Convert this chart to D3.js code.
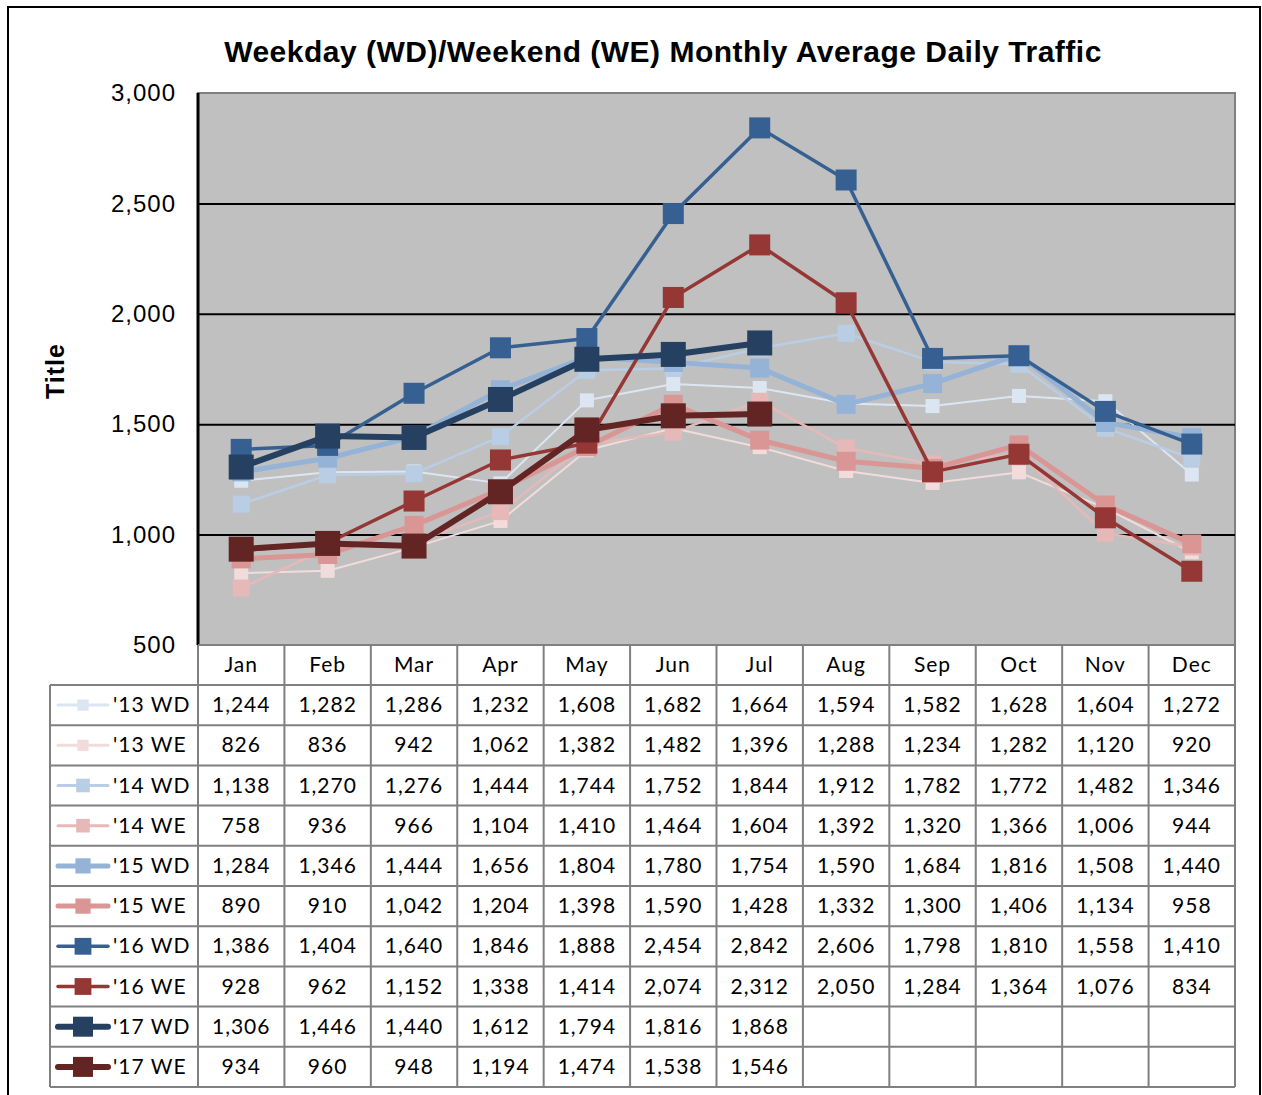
<!DOCTYPE html>
<html>
<head>
<meta charset="utf-8">
<script src="https://cdn.jsdelivr.net/npm/d3@7"></script>
<style>
  body { margin: 0; background: #fff; }
  svg { display: block; }
  .tick text { font-family: "Liberation Sans", Arial, sans-serif; }
</style>
</head>
<body>
<svg id="chart"></svg>
<script>
// Months (categories)
const months = ['Jan', 'Feb', 'Mar', 'Apr', 'May', 'Jun', 'Jul', 'Aug', 'Sep', 'Oct', 'Nov', 'Dec'];

// Series names
const seriesNames = ["'13 WD", "'13 WE", "'14 WD", "'14 WE", "'15 WD", "'15 WE", "'16 WD", "'16 WE", "'17 WD", "'17 WE"];

// Series values (null = no data yet)
const wd13 = [1244, 1282, 1286, 1232, 1608, 1682, 1664, 1594, 1582, 1628, 1604, 1272];
const we13 = [826, 836, 942, 1062, 1382, 1482, 1396, 1288, 1234, 1282, 1120, 920];
const wd14 = [1138, 1270, 1276, 1444, 1744, 1752, 1844, 1912, 1782, 1772, 1482, 1346];
const we14 = [758, 936, 966, 1104, 1410, 1464, 1604, 1392, 1320, 1366, 1006, 944];
const wd15 = [1284, 1346, 1444, 1656, 1804, 1780, 1754, 1590, 1684, 1816, 1508, 1440];
const we15 = [890, 910, 1042, 1204, 1398, 1590, 1428, 1332, 1300, 1406, 1134, 958];
const wd16 = [1386, 1404, 1640, 1846, 1888, 2454, 2842, 2606, 1798, 1810, 1558, 1410];
const we16 = [928, 962, 1152, 1338, 1414, 2074, 2312, 2050, 1284, 1364, 1076, 834];
const wd17 = [1306, 1446, 1440, 1612, 1794, 1816, 1868, null, null, null, null, null];
const we17 = [934, 960, 948, 1194, 1474, 1538, 1546, null, null, null, null, null];

// Y axis ticks
const yTicks = [500, 1000, 1500, 2000, 2500, 3000];

const seriesValues = [wd13, we13, wd14, we14, wd15, we15, wd16, we16, wd17, we17];

// styling per series
const colors = ['#dce6f2', '#f2dcdb', '#b9cde5', '#e6b9b8', '#95b3d7', '#d99694', '#376092', '#953735', '#254061', '#632523'];
const lineWidths = [2, 2, 2.5, 2.5, 5, 5, 3.5, 3.5, 6, 6];
const markerSizes = [14, 14, 17, 17, 19, 19, 21, 21, 25, 25];

const series = seriesNames.map((name, i) => ({
  name: name,
  values: seriesValues[i],
  color: colors[i],
  lw: lineWidths[i],
  ms: markerSizes[i]
}));

const W = 1262, H = 1095;
const plot = { left: 198, right: 1235, top: 93, bottom: 645 };
const rowH = 40.2;
const headerTop = 645, headerH = 40;
const legendLeft = 50;

const svg = d3.select('#chart').attr('width', W).attr('height', H);

// outer frame
svg.append('rect')
  .attr('x', 8).attr('y', 7)
  .attr('width', 1252).attr('height', 1100)
  .attr('fill', '#fff')
  .attr('stroke', '#000')
  .attr('stroke-width', 2);

// title
svg.append('text')
  .attr('x', 663).attr('y', 62)
  .attr('text-anchor', 'middle')
  .style('font-family', '"Liberation Sans", Arial, sans-serif')
  .style('font-weight', 'bold')
  .style('font-size', '30px')
  .style('letter-spacing', '0.5px')
  .text('Weekday (WD)/Weekend (WE) Monthly Average Daily Traffic');

// y axis title
svg.append('text')
  .attr('transform', 'translate(64,371) rotate(-90)')
  .attr('text-anchor', 'middle')
  .style('font-family', '"Liberation Sans", Arial, sans-serif')
  .style('font-weight', 'bold')
  .style('font-size', '25px')
  .style('letter-spacing', '1px')
  .text('Title');

// scales
const xScale = d3.scaleBand()
  .domain(months)
  .range([plot.left, plot.right]);

const yScale = d3.scaleLinear()
  .domain([500, 3000])
  .range([plot.bottom, plot.top]);

// plot background
svg.append('rect')
  .attr('x', plot.left).attr('y', plot.top)
  .attr('width', plot.right - plot.left).attr('height', plot.bottom - plot.top)
  .attr('fill', '#c0c0c0')
  .attr('stroke', '#808080')
  .attr('stroke-width', 2);

// gridlines
const grid = svg.append('g')
  .attr('transform', `translate(${plot.left},0)`)
  .call(d3.axisLeft(yScale)
    .tickValues(yTicks.filter(d => d > 500 && d < 3000))
    .tickSize(-(plot.right - plot.left))
    .tickFormat(''))
  .call(g => g.select('.domain').remove());
grid.selectAll('.tick line').attr('stroke', '#000').attr('stroke-width', 2);

// y axis labels
const yAxisG = svg.append('g')
  .attr('transform', `translate(${plot.left},0)`)
  .call(d3.axisLeft(yScale)
    .tickValues(yTicks)
    .tickSize(0)
    .tickPadding(22)
    .tickFormat(d3.format(',')))
  .call(g => g.select('.domain').remove());
yAxisG.selectAll('.tick text')
  .attr('fill', '#000')
  .style('font-size', '24px')
  .style('letter-spacing', '1px');

// left axis line
svg.append('line')
  .attr('x1', plot.left).attr('x2', plot.left)
  .attr('y1', plot.top).attr('y2', plot.bottom)
  .attr('stroke', '#000').attr('stroke-width', 3);

// lines and markers
const xc = m => xScale(m) + xScale.bandwidth() / 2;
const line = d3.line()
  .defined(d => d.v != null)
  .x(d => xc(d.m))
  .y(d => yScale(d.v));

const lines = svg.append('g');
series.forEach(s => {
  const pts = months.map((m, i) => ({ m: m, v: s.values[i] }));
  const g = lines.append('g');
  g.append('path')
    .datum(pts)
    .attr('fill', 'none')
    .attr('stroke', s.color)
    .attr('stroke-width', s.lw)
    .attr('stroke-linejoin', 'round')
    .attr('d', line);
  g.selectAll('rect')
    .data(pts.filter(d => d.v != null))
    .enter()
    .append('rect')
    .attr('x', d => xc(d.m) - s.ms / 2)
    .attr('y', d => yScale(d.v) - s.ms / 2)
    .attr('width', s.ms)
    .attr('height', s.ms)
    .attr('fill', s.color);
});

// data table
const table = svg.append('g');
const tableFont = 'Lato, "Open Sans", sans-serif';
const gridColor = '#808080';
const tableBottom = headerTop + headerH + rowH * series.length;

// header row (months)
table.selectAll('.month')
  .data(months)
  .enter()
  .append('text')
  .attr('class', 'month')
  .attr('x', d => xc(d))
  .attr('y', headerTop + headerH / 2 + 7)
  .attr('text-anchor', 'middle')
  .style('font-family', tableFont)
  .style('font-size', '21px')
  .style('letter-spacing', '1px')
  .text(d => d);

const fmt = d3.format(',');
series.forEach((s, r) => {
  const top = headerTop + headerH + r * rowH;
  const cy = top + rowH / 2;
  // legend key
  const kw = s.ms * 0.8;
  table.append('line')
    .attr('x1', 58).attr('x2', 108)
    .attr('y1', cy).attr('y2', cy)
    .attr('stroke', s.color)
    .attr('stroke-width', Math.max(s.lw, 3))
    .attr('stroke-linecap', 'round');
  table.append('rect')
    .attr('x', 83 - kw / 2).attr('y', cy - kw / 2)
    .attr('width', kw).attr('height', kw)
    .attr('fill', s.color);
  table.append('text')
    .attr('x', 113).attr('y', cy + 7)
    .style('font-family', tableFont)
    .style('font-size', '21px')
    .style('letter-spacing', '1px')
    .text(s.name);
  // values
  table.selectAll(null)
    .data(months.map((m, i) => ({ m: m, v: s.values[i] })).filter(d => d.v != null))
    .enter()
    .append('text')
    .attr('x', d => xc(d.m))
    .attr('y', cy + 7)
    .attr('text-anchor', 'middle')
    .style('font-family', tableFont)
    .style('font-size', '21px')
    .style('letter-spacing', '1px')
    .text(d => fmt(d.v));
});

// table grid: horizontal lines
const hLines = [];
hLines.push({ x1: plot.left, y: headerTop });
for (let r = 0; r <= series.length; r++) {
  hLines.push({ x1: legendLeft, y: headerTop + headerH + r * rowH });
}
table.selectAll('.hline')
  .data(hLines)
  .enter()
  .append('line')
  .attr('x1', d => d.x1).attr('x2', plot.right)
  .attr('y1', d => d.y).attr('y2', d => d.y)
  .attr('stroke', gridColor).attr('stroke-width', 2);

// vertical lines
const vLines = months.map(m => xScale(m)).concat([plot.right]);
table.selectAll('.vline')
  .data(vLines)
  .enter()
  .append('line')
  .attr('x1', d => d).attr('x2', d => d)
  .attr('y1', headerTop).attr('y2', tableBottom)
  .attr('stroke', gridColor).attr('stroke-width', 2);
table.append('line')
  .attr('x1', legendLeft).attr('x2', legendLeft)
  .attr('y1', headerTop + headerH).attr('y2', tableBottom)
  .attr('stroke', gridColor).attr('stroke-width', 2);
</script>
</body>
</html>
